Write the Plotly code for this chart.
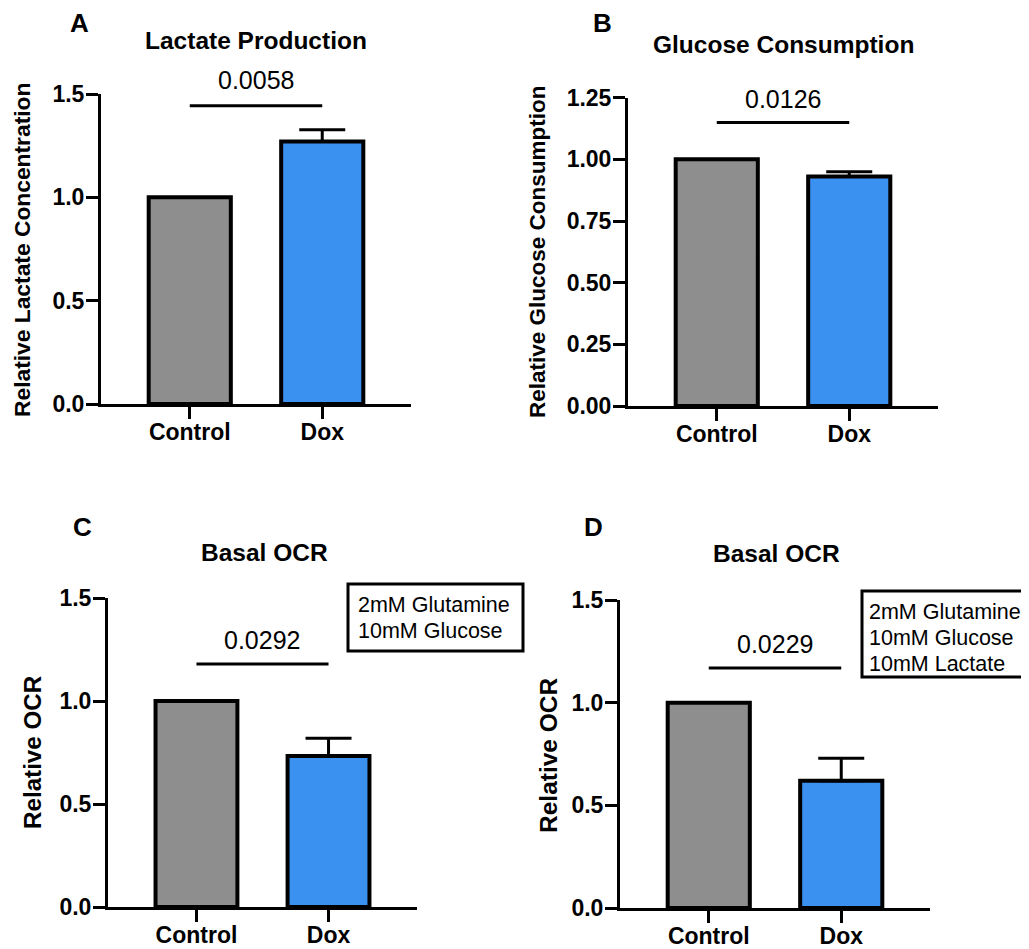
import plotly.graph_objects as go

# the page body adds an 8px margin, so the figure is sized to the visible area
OFF = 8
W, H = 1029 - OFF, 949 - OFF

# ---------------- data ----------------
categories = ["Control", "Dox"]

lactate_means = [1.0, 1.27]
lactate_err = [0.0, 0.057]
lactate_p = "0.0058"
lactate_bracket = 1.443
lactate_ptext = 1.57

glucose_means = [1.0, 0.93]
glucose_err = [0.0, 0.02]
glucose_p = "0.0126"
glucose_bracket = 1.149
glucose_ptext = 1.245

ocr_c_means = [1.0, 0.733]
ocr_c_err = [0.0, 0.086]
ocr_c_p = "0.0292"
ocr_c_bracket = 1.18
ocr_c_ptext = 1.296

ocr_d_means = [1.0, 0.62]
ocr_d_err = [0.0, 0.109]
ocr_d_p = "0.0229"
ocr_d_bracket = 1.169
ocr_d_ptext = 1.286

ticks_a = [0, 0.5, 1.0, 1.5]
ticks_b = [0, 0.25, 0.5, 0.75, 1.0, 1.25]
ticks_c = [0, 0.5, 1.0, 1.5]
ticks_d = [0, 0.5, 1.0, 1.5]

media_c = ["2mM Glutamine", "10mM Glucose"]
media_d = ["2mM Glutamine", "10mM Glucose", "10mM Lactate"]

bar_colors = ["#8e8e8e", "#3b91f0"]
FONT = "Liberation Sans, Arial, Helvetica, sans-serif"


def px(x):
    return (x - OFF) / W


def py(y):
    return 1 - (y - OFF) / H


panels = [
    dict(means=lactate_means, err=lactate_err, p=lactate_p, br=lactate_bracket, pt=lactate_ptext,
         ticks=ticks_a, fmt=".1f", xl=101, xr=411, yb=404, yt=94,
         title="Lactate Production", tx=256, ty=41, letter="A", lx=79, ly=23,
         ylab="Relative Lactate Concentration", ylx=22, yly=250, ylsize=22.8),
    dict(means=glucose_means, err=glucose_err, p=glucose_p, br=glucose_bracket, pt=glucose_ptext,
         ticks=ticks_b, fmt=".2f", xl=628, xr=938, yb=406, yt=97.7,
         title="Glucose Consumption", tx=783, ty=45, letter="B", lx=602, ly=23,
         ylab="Relative Glucose Consumption", ylx=537, yly=252, ylsize=22.5),
    dict(means=ocr_c_means, err=ocr_c_err, p=ocr_c_p, br=ocr_c_bracket, pt=ocr_c_ptext,
         ticks=ticks_c, fmt=".1f", xl=108, xr=417, yb=907, yt=598,
         title="Basal OCR", tx=264, ty=552, letter="C", lx=82, ly=527,
         ylab="Relative OCR", ylx=32, yly=753, ylsize=24.2),
    dict(means=ocr_d_means, err=ocr_d_err, p=ocr_d_p, br=ocr_d_bracket, pt=ocr_d_ptext,
         ticks=ticks_d, fmt=".1f", xl=620, xr=930, yb=908, yt=600,
         title="Basal OCR", tx=776, ty=553, letter="D", lx=593, ly=527,
         ylab="Relative OCR", ylx=548, yly=755, ylsize=24.5),
]

fig = go.Figure()
layout = dict(
    width=W, height=H, margin=dict(l=0, r=0, t=0, b=0, autoexpand=False),
    paper_bgcolor="white", plot_bgcolor="white",
    showlegend=False, barmode="overlay",
)
annotations = []
shapes = []

for i, p in enumerate(panels):
    n = "" if i == 0 else str(i + 1)
    xa, ya = "x" + n, "y" + n
    ymax = p["ticks"][-1]
    for j, cat in enumerate(categories):
        err = p["err"][j]
        fig.add_trace(go.Bar(
            x=[cat], y=[p["means"][j]], xaxis=xa, yaxis=ya, width=0.62,
            marker=dict(color=bar_colors[j], line=dict(color="black", width=4)),
            error_y=dict(type="data", symmetric=False, array=[err], arrayminus=[0],
                         thickness=3, width=23, color="black", visible=err > 0),
        ))
    axis_common = dict(showline=True, linewidth=3, linecolor="black", showgrid=False,
                       zeroline=False, ticks="outside", ticklen=12, tickwidth=3,
                       tickcolor="black", automargin=False,
                       tickfont=dict(family=FONT, size=23, color="black", weight="bold"))
    layout["xaxis" + n] = dict(axis_common, domain=[px(p["xl"]), px(p["xr"])],
                               anchor=ya, type="category", range=[-0.67, 1.67],
                               categoryorder="array", categoryarray=categories,
                               ticklabelstandoff=-7)
    layout["yaxis" + n] = dict(axis_common, domain=[py(p["yb"]), py(p["yt"])],
                               anchor=xa, range=[0, ymax],
                               tickvals=p["ticks"], tickformat=p["fmt"],
                               ticklabelstandoff=-3)
    # significance bracket
    shapes.append(dict(type="line", xref=xa, yref=ya, x0=0, x1=1, y0=p["br"], y1=p["br"],
                       line=dict(color="black", width=3)))
    annotations.append(dict(xref=xa + " domain", yref=ya + " domain",
                            x=(0.5 + 0.67) / (1.67 + 0.67), y=p["pt"] / ymax,
                            text=p["p"], showarrow=False,
                            font=dict(family=FONT, size=25, color="black"),
                            xanchor="center", yanchor="middle"))
    annotations.append(dict(xref="paper", yref="paper", x=px(p["tx"]), y=py(p["ty"]),
                            text=p["title"], showarrow=False,
                            font=dict(family=FONT, size=24.5, color="black", weight="bold"),
                            xanchor="center", yanchor="middle"))
    annotations.append(dict(xref="paper", yref="paper", x=px(p["lx"]), y=py(p["ly"]),
                            text=p["letter"], showarrow=False,
                            font=dict(family=FONT, size=26, color="black", weight="bold"),
                            xanchor="center", yanchor="middle"))
    annotations.append(dict(xref="paper", yref="paper", x=px(p["ylx"]), y=py(p["yly"]),
                            text=p["ylab"], showarrow=False, textangle=-90,
                            font=dict(family=FONT, size=p["ylsize"], color="black", weight="bold"),
                            xanchor="center", yanchor="middle"))

# media boxes: rectangle + one text line each
boxes = [
    dict(lines=media_c, x0=348, x1=523, y0=584, y1=651, tx=356, ty0=605),
    dict(lines=media_d, x0=862, x1=1045, y0=591, y1=677, tx=867, ty0=612),
]
for b in boxes:
    shapes.append(dict(type="rect", xref="paper", yref="paper",
                       x0=px(b["x0"]), x1=px(b["x1"]), y0=py(b["y1"]), y1=py(b["y0"]),
                       line=dict(color="black", width=3), fillcolor="white", layer="below"))
    for k, line in enumerate(b["lines"]):
        annotations.append(dict(xref="paper", yref="paper", x=px(b["tx"]),
                                y=py(b["ty0"] + 26 * k), text=line, showarrow=False,
                                xanchor="left", yanchor="middle",
                                font=dict(family=FONT, size=21.5, color="black")))

layout["annotations"] = annotations
layout["shapes"] = shapes
fig.update_layout(**layout)
fig.write_html("out.html")
